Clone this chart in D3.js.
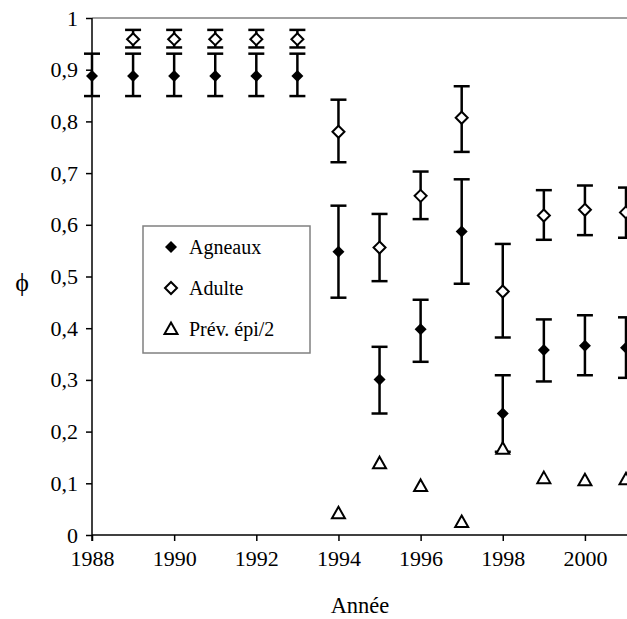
<!DOCTYPE html>
<html>
<head>
<meta charset="utf-8">
<script src="https://cdn.jsdelivr.net/npm/d3@7"></script>
<style>
  body { margin: 0; background: #fff; }
</style>
</head>
<body>
<div id="chart"></div>
<script>
// survival estimates per year
const years = [1988, 1989, 1990, 1991, 1992, 1993, 1994, 1995, 1996, 1997, 1998, 1999, 2000, 2001];
const agneaux = [0.888, 0.888, 0.888, 0.888, 0.888, 0.888, 0.548, 0.301, 0.398, 0.587, 0.235, 0.358, 0.366, 0.362];
const agneauxLo = [0.849, 0.849, 0.849, 0.849, 0.849, 0.849, 0.459, 0.235, 0.335, 0.486, 0.161, 0.297, 0.309, 0.304];
const agneauxHi = [0.931, 0.931, 0.931, 0.931, 0.931, 0.931, 0.637, 0.364, 0.455, 0.688, 0.309, 0.417, 0.425, 0.421];

const adulteYears = [1989, 1990, 1991, 1992, 1993, 1994, 1995, 1996, 1997, 1998, 1999, 2000, 2001];
const adulte = [0.959, 0.959, 0.959, 0.959, 0.959, 0.780, 0.556, 0.656, 0.807, 0.471, 0.618, 0.629, 0.624];
const adulteLo = [0.943, 0.943, 0.943, 0.943, 0.943, 0.721, 0.491, 0.611, 0.741, 0.382, 0.571, 0.580, 0.575];
const adulteHi = [0.977, 0.977, 0.977, 0.977, 0.977, 0.842, 0.621, 0.703, 0.868, 0.563, 0.667, 0.676, 0.672];

const prevYears = [1994, 1995, 1996, 1997, 1998, 1999, 2000, 2001];
const prevEpi = [0.042, 0.139, 0.095, 0.025, 0.167, 0.110, 0.106, 0.108];

const xTicks = [1988, 1990, 1992, 1994, 1996, 1998, 2000];
const yTicks = [0, 0.1, 0.2, 0.3, 0.4, 0.5, 0.6, 0.7, 0.8, 0.9, 1];

const FONT = "'Liberation Serif', 'Times New Roman', 'DejaVu Serif', serif";
const width = 627, height = 619;
const margin = { top: 18, right: 1, bottom: 84, left: 92 };

const svg = d3.select("#chart").append("svg")
  .attr("width", width).attr("height", height)
  .attr("font-family", FONT);

const x = d3.scaleLinear().domain([1988, 2001]).range([margin.left, width - margin.right]);
const y = d3.scaleLinear().domain([0, 1]).range([height - margin.bottom, margin.top]);

// marker shapes
const diamond = "M0,-6L6,0L0,6L-6,0Z";
const triangle = "M0,-6.5L6.5,5L-6.5,5Z";

// top border of plot area
svg.append("line")
  .attr("x1", margin.left).attr("x2", width)
  .attr("y1", y(1)).attr("y2", y(1))
  .attr("stroke", "#808080").attr("stroke-width", 1.5);

// axes
const fmt = d => d3.format(".1~f")(d).replace(".", ",");
const yAxis = svg.append("g")
  .attr("transform", `translate(${margin.left},0)`)
  .call(d3.axisLeft(y).tickValues(yTicks).tickFormat(fmt).tickSize(6).tickPadding(8));
const xAxis = svg.append("g")
  .attr("transform", `translate(0,${y(0)})`)
  .call(d3.axisBottom(x).tickValues(xTicks).tickFormat(d3.format("d")).tickSize(6).tickPadding(9));
[yAxis, xAxis].forEach(a => {
  a.attr("font-family", FONT).attr("font-size", 22);
  a.select(".domain").attr("stroke", "#000").attr("stroke-width", 1.5);
  a.selectAll(".tick line").attr("stroke", "#000").attr("stroke-width", 1.5);
  a.selectAll("text").attr("fill", "#000");
});
xAxis.select(".domain").attr("d", `M${margin.left},0H${width}`);
yAxis.select(".domain").attr("d", `M0,${y(0) + 6}V${y(1)}`);

// axis titles
svg.append("text").attr("x", 22).attr("y", 291)
  .attr("text-anchor", "middle").attr("font-size", 26).text("\u03D5");
svg.append("text").attr("x", 360).attr("y", 613)
  .attr("text-anchor", "middle").attr("font-size", 22.5).text("Année");

// error bars
function errorBars(xs, lo, hi) {
  const g = svg.append("g").attr("stroke", "#000").attr("stroke-width", 2.5);
  xs.forEach((yr, i) => {
    g.append("line").attr("x1", x(yr)).attr("x2", x(yr)).attr("y1", y(lo[i])).attr("y2", y(hi[i]));
    [lo[i], hi[i]].forEach(v => {
      g.append("line").attr("x1", x(yr) - 8).attr("x2", x(yr) + 8).attr("y1", y(v)).attr("y2", y(v));
    });
  });
}
errorBars(adulteYears, adulteLo, adulteHi);
errorBars(years, agneauxLo, agneauxHi);

// markers
svg.append("g").selectAll("path").data(adulteYears).join("path")
  .attr("d", diamond)
  .attr("transform", (d, i) => `translate(${x(d)},${y(adulte[i])})`)
  .attr("fill", "#fff").attr("stroke", "#000").attr("stroke-width", 2);
svg.append("g").selectAll("path").data(years).join("path")
  .attr("d", diamond)
  .attr("transform", (d, i) => `translate(${x(d)},${y(agneaux[i])})`)
  .attr("fill", "#000");
svg.append("g").selectAll("path").data(prevYears).join("path")
  .attr("d", triangle)
  .attr("transform", (d, i) => `translate(${x(d)},${y(prevEpi[i])})`)
  .attr("fill", "#fff").attr("stroke", "#000").attr("stroke-width", 2);

// legend
const legend = svg.append("g").attr("transform", "translate(143,226)");
legend.append("rect").attr("width", 167).attr("height", 127)
  .attr("fill", "#fff").attr("stroke", "#808080").attr("stroke-width", 1.5);
const items = [
  { label: "Agneaux", shape: diamond, fill: "#000", stroke: "none" },
  { label: "Adulte", shape: diamond, fill: "#fff", stroke: "#000" },
  { label: "Prév. épi/2", shape: triangle, fill: "#fff", stroke: "#000" }
];
const li = legend.selectAll(".legend-item").data(items).join("g")
  .attr("class", "legend-item")
  .attr("transform", (d, i) => `translate(0,${21 + i * 41})`);
li.append("path").attr("d", d => d.shape)
  .attr("transform", "translate(28,0)")
  .attr("fill", d => d.fill).attr("stroke", d => d.stroke).attr("stroke-width", 2);
li.append("text").attr("x", 46).attr("y", 7).attr("font-size", 20).text(d => d.label);
</script>
</body>
</html>
